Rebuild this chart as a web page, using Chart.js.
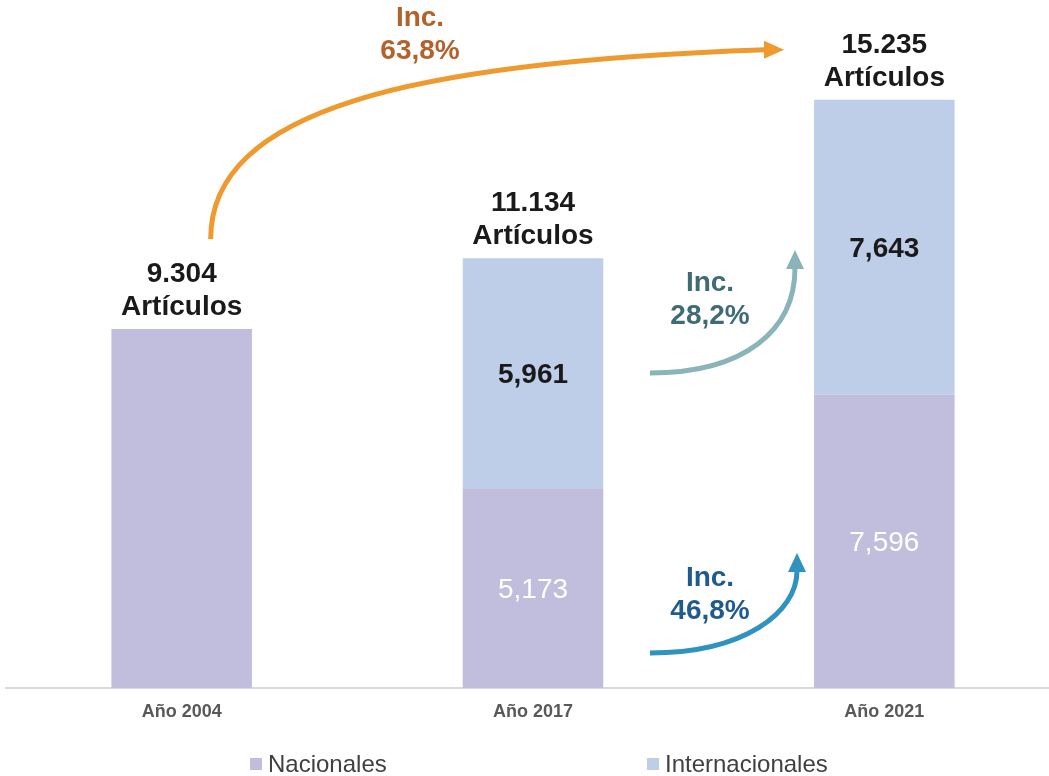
<!DOCTYPE html>
<html>
<head>
<meta charset="utf-8">
<script src="https://cdn.jsdelivr.net/npm/chart.js@4/dist/chart.umd.min.js"></script>
<style>
    html, body { margin: 0; padding: 0; background: #fff; overflow: hidden; }
    #wrap { width: 1060px; height: 776px; }
</style>
</head>
<body>
<div id="wrap"><canvas id="articulosChart" width="1060" height="776"></canvas></div>
<script>
// ---------- data ----------
const categories = ["Año 2004", "Año 2017", "Año 2021"];
const nacionales = [9304, 5173, 7596];
const internacionales = [null, 5961, 7643];
// totals as printed in the original (15.235 does not equal 7596 + 7643)
const totals = [9304, 11134, 15235];
const seriesNames = ["Nacionales", "Internacionales"];
const incLabels = ["63,8%", "28,2%", "46,8%"];

const COL_NAC = "#c1bddc";
const COL_INT = "#bfcee8";
const FONT = "'Liberation Sans', Arial, sans-serif";

// number formats as in the original (totals use ".", segments use ",")
const fmtTotal = v => v.toLocaleString("de-DE");
const fmtSeg = v => v.toLocaleString("en-US");

function arrow(ctx, pts, tip, color, dir) {
    ctx.save();
    ctx.strokeStyle = color;
    ctx.fillStyle = color;
    ctx.lineWidth = 5;
    ctx.lineCap = "butt";
    ctx.beginPath();
    ctx.moveTo(pts[0][0], pts[0][1]);
    ctx.bezierCurveTo(pts[1][0], pts[1][1], pts[2][0], pts[2][1], pts[3][0], pts[3][1]);
    ctx.stroke();
    // arrow head
    const e = pts[3];
    ctx.beginPath();
    if (dir === "right") {
        ctx.moveTo(tip[0], tip[1]);
        ctx.lineTo(e[0] - 1, e[1] - 9);
        ctx.lineTo(e[0] - 1, e[1] + 9);
    } else {
        ctx.moveTo(tip[0], tip[1]);
        ctx.lineTo(e[0] - 9, e[1] + 1);
        ctx.lineTo(e[0] + 9, e[1] + 1);
    }
    ctx.closePath();
    ctx.fill();
    ctx.restore();
}

function twoLines(ctx, x, y, a, b, color, bold) {
    ctx.fillStyle = color;
    ctx.font = (bold ? "bold " : "") + "28px " + FONT;
    ctx.textAlign = "center";
    ctx.textBaseline = "middle";
    ctx.fillText(a, x, y);
    if (b !== null) ctx.fillText(b, x, y + 33);
}

const annotations = {
    id: "annotations",
    afterDatasetsDraw(chart) {
        const ctx = chart.ctx;
        const xs = chart.scales.x, ys = chart.scales.y;
        const cx = categories.map((c, i) => xs.getPixelForValue(i));
        ctx.save();

        // totals above bars + inner segment labels
        categories.forEach((c, i) => {
            const top = ys.getPixelForValue((nacionales[i] || 0) + (internacionales[i] || 0));
            twoLines(ctx, cx[i], top - 55, fmtTotal(totals[i]), "Artículos", "#1a1a1a", true);
            if (internacionales[i]) {
                const base = ys.getPixelForValue(0);
                const mid = ys.getPixelForValue(nacionales[i]);
                ctx.font = "bold 28px " + FONT;
                ctx.fillStyle = "#1a1a1a";
                ctx.fillText(fmtSeg(internacionales[i]), cx[i], (mid + top) / 2 + 2);
                ctx.font = "28px " + FONT;
                ctx.fillStyle = "#ffffff";
                ctx.fillText(fmtSeg(nacionales[i]), cx[i], (base + mid) / 2 + 2);
            }
        });

        // big orange arrow 2004 -> 2021 total
        const t0 = ys.getPixelForValue(nacionales[0]) - 90;
        const t2 = ys.getPixelForValue(nacionales[2] + internacionales[2]) - 50;
        arrow(ctx, [[cx[0] + 29, t0], [cx[0] + 29, 110], [410, 62], [765, t2]],
            [784, t2], "#ee9a2e", "right");
        twoLines(ctx, cx[1] - 113, 18, "Inc.", incLabels[0], "#b3622b", true);

        // internacionales arrow 2017 -> 2021
        arrow(ctx, [[650, 373], [745, 373], [795, 330], [795, 268]],
            [795, 250], "#8ab3ba", "up");
        twoLines(ctx, 710, 283, "Inc.", incLabels[1], "#3e6b76", true);

        // nacionales arrow 2017 -> 2021
        arrow(ctx, [[650, 653], [745, 653], [797, 612], [797, 571]],
            [797, 553], "#2e93bf", "up");
        twoLines(ctx, 710, 578, "Inc.", incLabels[2], "#1f5b8e", true);

        // legend
        const legendX = [250, 647];
        const colors = [COL_NAC, COL_INT];
        ctx.font = "24px " + FONT;
        ctx.textAlign = "left";
        ctx.textBaseline = "middle";
        seriesNames.forEach((n, i) => {
            ctx.fillStyle = colors[i];
            ctx.fillRect(legendX[i], 758, 12, 12);
            ctx.fillStyle = "#404040";
            ctx.fillText(n, legendX[i] + 18, 765);
        });

        ctx.restore();
    }
};

new Chart(document.getElementById("articulosChart").getContext("2d"), {
    type: "bar",
    data: {
        labels: categories,
        datasets: [
            { label: seriesNames[0], data: nacionales, backgroundColor: COL_NAC,
              barPercentage: 0.4, categoryPercentage: 1 },
            { label: seriesNames[1], data: internacionales, backgroundColor: COL_INT,
              barPercentage: 0.4, categoryPercentage: 1 }
        ]
    },
    options: {
        responsive: false,
        animation: false,
        layout: { padding: { top: 12.6, left: 6, right: 0, bottom: 40.4 } },
        plugins: {
            legend: { display: false },
            tooltip: { enabled: false }
        },
        scales: {
            x: {
                stacked: true,
                grid: { display: false, drawTicks: false },
                border: { display: true, color: "#d9d9d9", width: 2 },
                ticks: {
                    padding: 13,
                    color: "#595959",
                    font: { family: FONT, size: 18, weight: "bold" }
                }
            },
            y: {
                stacked: true,
                display: false,
                min: 0,
                max: 17500
            }
        }
    },
    plugins: [annotations]
});
</script>
</body>
</html>
